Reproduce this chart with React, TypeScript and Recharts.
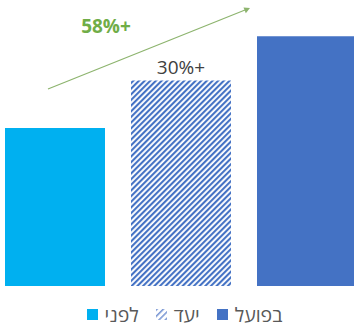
import { Bar, BarChart, Cell, LabelList, Legend, XAxis, YAxis } from "recharts";

const categories = ["לפני", "יעד", "בפועל"];
const values = [100, 130, 158];
const barLabels = ["", "30%+", ""];
const growthLabel = "58%+";

const fills = ["#00B0F0", "url(#hatch)", "#4472C4"];
const legendFills = ["#00B0F0", "url(#hatchLegend)", "#4472C4"];

const rows = categories.map((name, i) => ({ name, value: values[i], label: barLabels[i] }));

const font = "'Open Sans', 'DejaVu Sans', sans-serif";

function BarTopLabel(props: any) {
  const { x, y, width, value } = props;
  if (!value) return null;
  return (
    <text x={x + width / 2} y={y - 6.5} textAnchor="middle" fill="#404040" fontSize={19} fontFamily={font}>
      {value}
    </text>
  );
}

function LegendContent() {
  return (
    <div
      style={{
        height: 41,
        paddingTop: 16,
        boxSizing: "border-box",
        display: "flex",
        justifyContent: "center",
        direction: "ltr",
        fontFamily: font,
        fontSize: 19.5,
        lineHeight: "20px",
        color: "#595959",
        gap: 17,
        marginLeft: 7,
      }}
    >
      {categories.map((name, i) => (
        <div key={name} style={{ display: "flex", alignItems: "center", gap: 7 }}>
          <svg width={11} height={11}>
            <defs>
              <pattern id="hatchLegend" width="4.5" height="4.5" patternUnits="userSpaceOnUse" patternTransform="rotate(45)">
                <rect width="1.6" height="4.5" fill="#7F9BD6" />
              </pattern>
            </defs>
            <rect width={11} height={11} fill={legendFills[i]} />
          </svg>
          <span>{name}</span>
        </div>
      ))}
    </div>
  );
}

export default function App() {
  return (
    <div style={{ position: "absolute", left: 0, top: 0, width: 354, height: 327, overflow: "hidden", background: "#fff" }}>
      <div style={{ position: "absolute", left: -8, top: 0 }}>
        <BarChart width={378} height={327} data={rows} margin={{ top: 0, right: 0, bottom: 0, left: 0 }}>
          <defs>
            <pattern id="hatch" width="4" height="4" patternUnits="userSpaceOnUse" patternTransform="rotate(45)">
              <rect width="2.1" height="4" fill="#4472C4" />
            </pattern>
          </defs>
          <XAxis dataKey="name" hide />
          <YAxis hide domain={[0, 181]} />
          <Legend verticalAlign="bottom" content={<LegendContent />} />
          <Bar dataKey="value" barSize={100} isAnimationActive={false}>
            {rows.map((row, i) => (
              <Cell key={row.name} fill={fills[i]} />
            ))}
            <LabelList dataKey="label" content={<BarTopLabel />} />
          </Bar>
        </BarChart>
      </div>
      <svg width={354} height={327} style={{ position: "absolute", left: 0, top: 0, pointerEvents: "none" }}>
        <line x1={48} y1={89} x2={245} y2={10} stroke="#8DB46E" strokeWidth={1.2} />
        <polygon points="250,8 243.5,7.5 245.8,13.2" fill="#8DB46E" />
        <text x={106} y={33} textAnchor="middle" fill="#70AD47" fontSize={19} fontWeight="bold" fontFamily={font}>
          {growthLabel}
        </text>
      </svg>
    </div>
  );
}
